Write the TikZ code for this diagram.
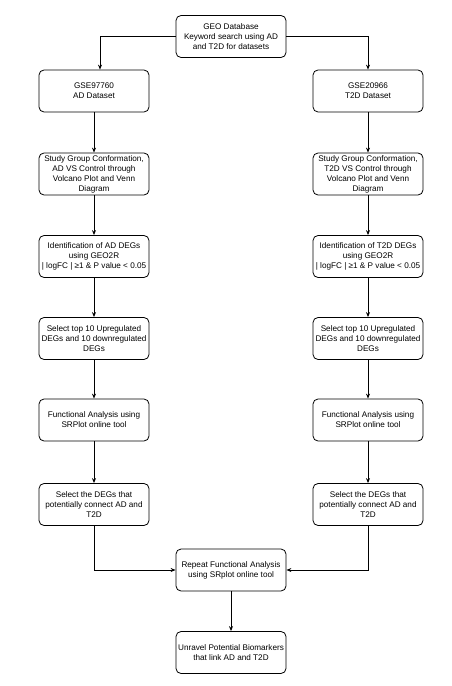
\documentclass[tikz,border=0pt]{standalone}
\usepackage{fontspec}
\setmainfont{Liberation Sans}
\usetikzlibrary{arrows.meta,calc}
\begin{document}
\begin{tikzpicture}[x=1bp,y=-1bp,
  box/.style={draw, rounded corners=5bp, line width=0.8bp, minimum width=110bp, minimum height=42bp,
    align=center, inner sep=1bp, font=\fontsize{8.2}{10}\selectfont},
  conn/.style={draw, line width=0.8bp, -{Stealth[length=5bp,width=4bp]}}]
\useasboundingbox (0,0) rectangle (452,686);
\node[box] (geo) at (231,36.5) {GEO Database\\Keyword search using AD\\and T2D for datasets};
\node[box] (ad) at (94,91) {GSE97760\\AD Dataset};
\node[box] (td) at (368,91) {GSE20966\\T2D Dataset};
\node[box] (ads) at (94,174) {Study Group Conformation,\\AD VS Control through\\Volcano Plot and Venn\\Diagram};
\node[box] (tds) at (368,174) {Study Group Conformation,\\T2D VS Control through\\Volcano Plot and Venn\\Diagram};
\node[box] (adi) at (94,256.5) {Identification of AD DEGs\\using GEO2R\\| logFC | ≥1 \& P value < 0.05};
\node[box] (tdi) at (368,256.5) {Identification of T2D DEGs\\using GEO2R\\| logFC | ≥1 \& P value < 0.05};
\node[box] (adt) at (94,338.5) {Select top 10 Upregulated\\DEGs and 10 downregulated\\DEGs};
\node[box] (tdt) at (368,338.5) {Select top 10 Upregulated\\DEGs and 10 downregulated\\DEGs};
\node[box] (adf) at (94,420) {Functional Analysis using\\SRPlot online tool};
\node[box] (tdf) at (368,420) {Functional Analysis using\\SRPlot online tool};
\node[box] (adc) at (94,504.5) {Select the DEGs that\\potentially connect AD and\\T2D};
\node[box] (tdc) at (368,504.5) {Select the DEGs that\\potentially connect AD and\\T2D};
\node[box] (rep) at (231,570) {Repeat Functional Analysis\\using SRplot online tool};
\node[box] (unr) at (231,652.5) {Unravel Potential Biomarkers\\that link AD and T2D};
\draw[conn] (geo.west) -| ($(ad.north)+(6,0)$);
\draw[conn] (geo.east) -| (td.north);
\foreach \a/\b in {ad/ads,ads/adi,adi/adt,adt/adf,adf/adc,td/tds,tds/tdi,tdi/tdt,tdt/tdf,tdf/tdc,rep/unr}
  \draw[conn] (\a) -- (\b);
\draw[conn] (adc.south) |- (rep.west);
\draw[conn] (tdc.south) |- (rep.east);
\end{tikzpicture}
\end{document}
